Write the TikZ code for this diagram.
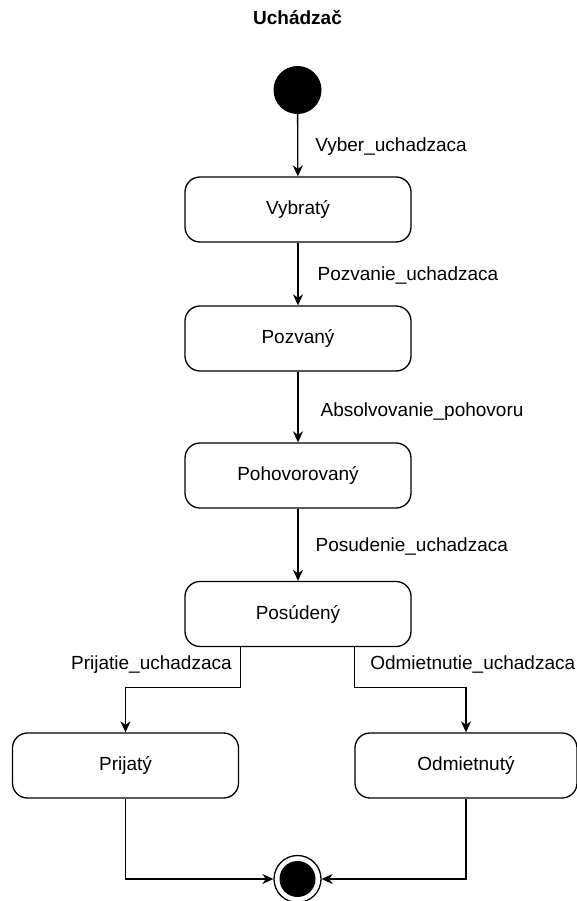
\documentclass[tikz,border=0pt]{standalone}
\usepackage{fontspec}
\setmainfont{Liberation Sans}
\usetikzlibrary{arrows.meta}
\begin{document}
\begin{tikzpicture}[x=1pt,y=-1pt,
  state/.style={draw, rounded corners=15pt, minimum width=226pt, minimum height=65pt,
    line width=1.3pt, font=\fontsize{19}{22}\selectfont, inner sep=0pt},
  arr/.style={line width=1.3pt, -{Stealth[length=11pt,width=10pt,inset=3.5pt]}},
  lbl/.style={font=\fontsize{19}{22}\selectfont, inner sep=0pt},
]
\useasboundingbox (0,0) rectangle (577,901);

% title
\node[font=\bfseries\fontsize{19}{22}\selectfont, anchor=base] (title) at (297.5,25) {Uchádzač};

% states
\node[circle, fill, minimum size=48pt, inner sep=0pt] (init) at (297.5,90) {};
\node[state] (vybraty) at (298,209.5) {Vybratý};
\node[state] (pozvany) at (298,338.5) {Pozvaný};
\node[state] (pohovorovany) at (298,475.5) {Pohovorovaný};
\node[state] (posudeny) at (298,614) {Posúdený};
\node[state] (prijaty) at (125.5,765.5) {Prijatý};
\node[state, minimum width=222pt] (odmietnuty) at (466,765.5) {Odmietnutý};
\node[circle, draw, line width=1.3pt, minimum size=47pt, inner sep=0pt,
  path picture={\fill (path picture bounding box.center) circle (18pt);}] (final) at (297.5,879) {};

% transitions
\draw[arr] (init) -- node[lbl, anchor=west, xshift=17pt, pos=0.52] {Vyber\_uchadzaca} (vybraty);
\draw[arr] (vybraty) -- node[lbl, anchor=west, xshift=19pt, pos=0.53] {Pozvanie\_uchadzaca} (pozvany);
\draw[arr] (pozvany) -- node[lbl, anchor=west, xshift=22pt, pos=0.57] {Absolvovanie\_pohovoru} (pohovorovany);
\draw[arr] (pohovorovany) -- node[lbl, anchor=west, xshift=17pt, pos=0.53] {Posudenie\_uchadzaca} (posudeny);

\draw[arr] (posudeny.south west) ++(56,0)
  -- node[lbl, anchor=east, xshift=-8pt, pos=0.42] {Prijatie\_uchadzaca} ++(0,40.5)
  -| (prijaty.north);
\draw[arr] (posudeny.south east) ++(-57,0)
  -- node[lbl, anchor=west, xshift=15pt, pos=0.42] {Odmietnutie\_uchadzaca} ++(0,40.5)
  -| (odmietnuty.north);

\draw[arr] (prijaty.south) |- (final.west);
\draw[arr] (odmietnuty.south) |- (final.east);
\end{tikzpicture}
\end{document}
